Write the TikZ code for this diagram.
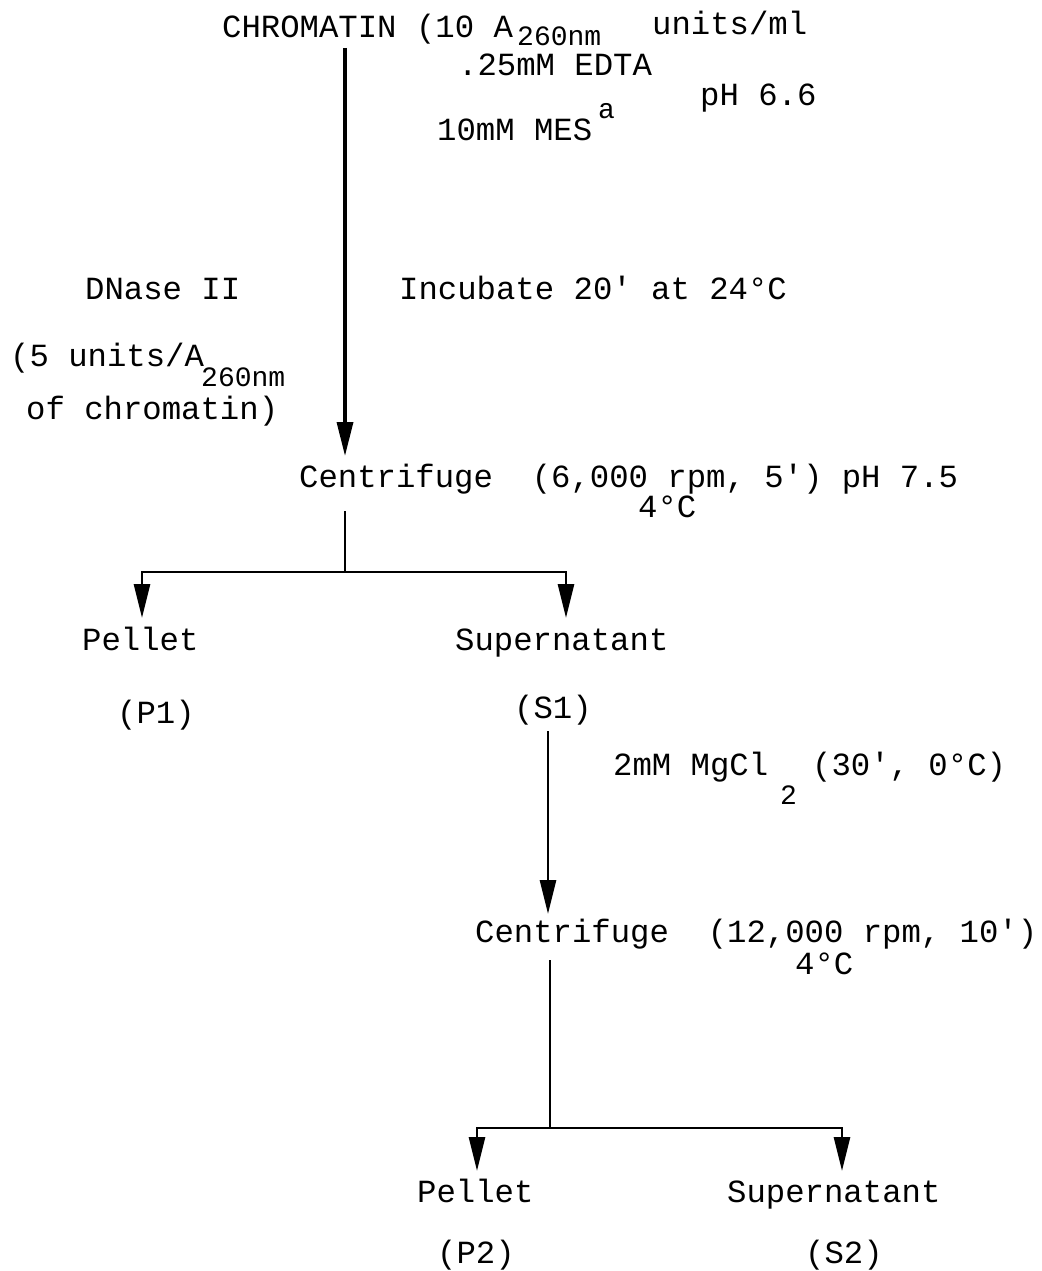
\documentclass[tikz,border=0pt]{standalone}
\usepackage{fontspec}
\setmainfont{Liberation Mono}
\usetikzlibrary{arrows.meta}
\newcommand{\ap}{\textquotesingle}
\begin{document}
\begin{tikzpicture}[x=1pt,y=-1pt,
  txt/.style={anchor=base west,inner sep=0pt,font=\fontsize{32.3}{36}\selectfont},
  sub/.style={anchor=base west,inner sep=0pt,font=\fontsize{28}{31}\selectfont},
  ln/.style={line width=2.7pt},
  arr/.style={ln,-{Triangle[length=34pt,width=16pt]}}]
\useasboundingbox[fill=white] (0,0) rectangle (1041,1271);
% top block
\node[txt] (chrom) at (222,38) {CHROMATIN (10 A};
\node[sub] (chromsub) at (517,46) {260nm};
\node[txt] (chromun) at (652,35) {units/ml};
\node[txt] (edta) at (458,76) {.25mM EDTA};
\node[txt] (ph1) at (700,106) {pH 6.6};
\node[txt] (mes) at (437,140) {10mM MES};
\node[sub] (mesa) at (598,119) {a};
\coordinate (top1) at (345,48);
\coordinate (tip1) at (345,456);
\draw[arr,line width=3.4pt] (top1) -- (tip1);
\node[txt] (dnase) at (85,299) {DNase II};
\node[txt] (incub) at (399,299) {Incubate 20\ap{} at 24°C};
\node[txt] (units) at (10,366) {(5 units/A};
\node[sub] (unitsub) at (201,386) {260nm};
\node[txt] (ofchr) at (26,419) {of chromatin)};
\node[txt] (cent1) at (299,487) {Centrifuge\ \ (6,000 rpm, 5\ap) pH 7.5};
\node[txt] (fc1) at (638,517) {4°C};
% first branch
\coordinate (s1) at (345,511);
\coordinate (b1) at (345,572);
\coordinate (b1l) at (142,572);
\coordinate (b1r) at (566,572);
\coordinate (t1l) at (142,618);
\coordinate (t1r) at (566,618);
\draw[ln] (s1) -- (b1);
\draw[arr] (b1) -- (b1l) -- (t1l);
\draw[arr] (b1) -- (b1r) -- (t1r);
\node[txt] (pel1) at (82,650) {Pellet};
\node[txt] (sup1) at (455,650) {Supernatant};
\node[txt] (p1) at (117,723) {(P1)};
\node[txt] (s1l) at (514,718) {(S1)};
% second step
\coordinate (top3) at (548,731);
\coordinate (tip3) at (548,914);
\draw[arr] (top3) -- (tip3);
\node[txt] (mg) at (613,775) {2mM MgCl};
\node[sub] (mgsub) at (780,804) {2};
\node[txt] (mgc) at (812,775) {(30\ap, 0°C)};
\node[txt] (cent2) at (475,942) {Centrifuge\ \ (12,000 rpm, 10\ap)};
\node[txt] (fc2) at (795,974) {4°C};
\coordinate (s4) at (550,960);
\coordinate (b2) at (550,1128);
\coordinate (b2l) at (477,1128);
\coordinate (b2r) at (842,1128);
\coordinate (t2l) at (477,1171);
\coordinate (t2r) at (842,1171);
\draw[ln] (s4) -- (b2);
\draw[arr] (b2) -- (b2l) -- (t2l);
\draw[arr] (b2) -- (b2r) -- (t2r);
\node[txt] (pel2) at (417,1202) {Pellet};
\node[txt] (sup2) at (727,1202) {Supernatant};
\node[txt] (p2) at (437,1263) {(P2)};
\node[txt] (s2) at (805,1263) {(S2)};
\end{tikzpicture}
\end{document}
